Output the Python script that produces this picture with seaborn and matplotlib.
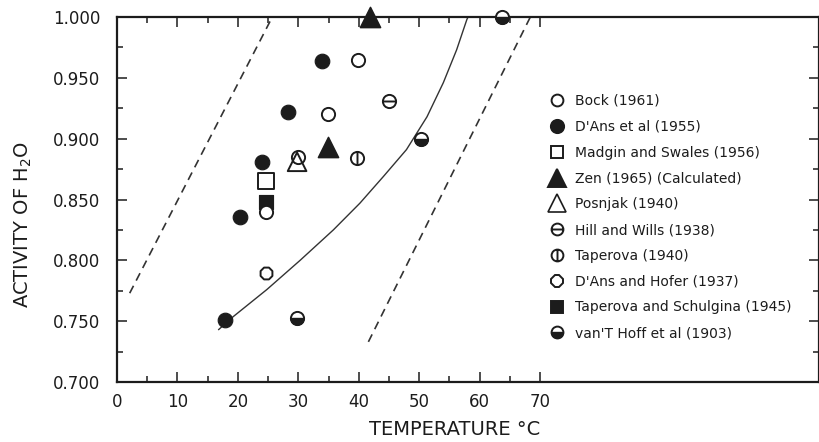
import numpy as np
import matplotlib
matplotlib.use("Agg")
import matplotlib.pyplot as plt
from matplotlib.lines import Line2D
from matplotlib.path import Path
import seaborn as sns

# data (temperature in deg C, activity of H2O)
bock_t = [24.7, 29.9, 34.9, 39.8]
bock_a = [0.840, 0.885, 0.920, 0.965]
dans_t = [17.9, 20.4, 24.0, 28.3, 33.9]
dans_a = [0.751, 0.836, 0.881, 0.922, 0.964]
madgin_t = [24.7]
madgin_a = [0.865]
zen_t = [34.9, 41.9]
zen_a = [0.893, 1.000]
posnjak_t = [29.8]
posnjak_a = [0.881]
hill_t = [45.0]
hill_a = [0.931]
taperova_t = [39.7]
taperova_a = [0.884]
hofer_t = [24.7]
hofer_a = [0.790]
schulgina_t = [24.7]
schulgina_a = [0.848]
vanthoff_t = [29.8, 50.3, 63.7]
vanthoff_a = [0.753, 0.900, 1.000]

# boundary lines
left_dash_t = [2.1, 25.7]
left_dash_a = [0.773, 1.000]
right_dash_t = [41.6, 68.4]
right_dash_a = [0.733, 1.000]
curve_t = [16.8, 19.3, 24.8, 30.3, 35.8, 40.2, 44.1, 47.9, 51.3, 54.0, 56.2, 57.9, 58.1]
curve_a = [0.743, 0.754, 0.776, 0.800, 0.825, 0.847, 0.869, 0.891, 0.918, 0.946, 0.973, 0.998, 1.000]

xticks = [0, 10, 20, 30, 40, 50, 60, 70]
xminor = [5, 15, 25, 35, 45, 55, 65]
yticks = [0.700, 0.750, 0.800, 0.850, 0.900, 0.950, 1.000]
yminor = [0.725, 0.775, 0.825, 0.875, 0.925, 0.975]

labels = ["Bock (1961)", "D'Ans et al (1955)", "Madgin and Swales (1956)",
          "Zen (1965) (Calculated)", "Posnjak (1940)", "Hill and Wills (1938)",
          "Taperova (1940)", "D'Ans and Hofer (1937)",
          "Taperova and Schulgina (1945)", "van'T Hoff et al (1903)"]

sns.set_theme(style="ticks")
plt.rcParams["font.family"] = ["DejaVu Sans"]

ink = "#1c1c1c"

fig = plt.figure(figsize=(8.19, 4.42), dpi=100)
ax = fig.add_axes([117 / 819, 1 - 382 / 442, (818.5 - 117) / 819, (382 - 17) / 442])

# custom marker paths
circ = Path.unit_circle()
hline = Path([[-1, 0], [1, 0]], [Path.MOVETO, Path.LINETO])
vline = Path([[0, -1], [0, 1]], [Path.MOVETO, Path.LINETO])
hill_marker = Path.make_compound_path(circ, hline)
tap_marker = Path.make_compound_path(circ, vline)
half_marker = Path.wedge(180, 360)

# lines
sns.lineplot(x=left_dash_t, y=left_dash_a, ax=ax, color="#333333", lw=1.2,
             linestyle=(0, (5, 3.5)))
sns.lineplot(x=right_dash_t, y=right_dash_a, ax=ax, color="#333333", lw=1.2,
             linestyle=(0, (5, 3.5)))
sns.lineplot(x=curve_t, y=curve_a, ax=ax, color="#333333", lw=1.0, sort=False)

# points
kw = dict(ax=ax, clip_on=False, zorder=5, legend=False)
sns.scatterplot(x=schulgina_t, y=schulgina_a, marker="s", s=110, color=ink, edgecolor=ink, **kw)
sns.scatterplot(x=bock_t, y=bock_a, marker="o", s=90, facecolor="white", edgecolor=ink, linewidth=1.4, **kw)
sns.scatterplot(x=dans_t, y=dans_a, marker="o", s=110, color=ink, edgecolor=ink, **kw)
sns.scatterplot(x=madgin_t, y=madgin_a, marker="s", s=125, facecolor="white", edgecolor=ink, linewidth=1.4, **kw)
sns.scatterplot(x=zen_t, y=zen_a, marker="^", s=210, color=ink, edgecolor=ink, **kw)
sns.scatterplot(x=posnjak_t, y=posnjak_a, marker="^", s=180, facecolor="none", edgecolor=ink, linewidth=1.4, **kw)
sns.scatterplot(x=hill_t, y=hill_a, marker=hill_marker, s=90, facecolor="white", edgecolor=ink, linewidth=1.4, **kw)
sns.scatterplot(x=taperova_t, y=taperova_a, marker=tap_marker, s=90, facecolor="white", edgecolor=ink, linewidth=1.4, **kw)
sns.scatterplot(x=hofer_t, y=hofer_a, marker="8", s=85, facecolor="white", edgecolor=ink, linewidth=1.4, **kw)
sns.scatterplot(x=vanthoff_t, y=vanthoff_a, marker="o", s=90, facecolor="white", edgecolor=ink, linewidth=1.4, **kw)
sns.scatterplot(x=vanthoff_t, y=vanthoff_a, marker=half_marker, s=90, color=ink, edgecolor=ink, linewidth=1.0, **kw)

# axes styling
ax.set_xlim(0, (818.5 - 117) / 6.043)
ax.set_ylim(0.700, 1.000)
ax.set_xticks(xticks)
ax.set_xticks(xminor, minor=True)
ax.set_xticklabels([str(t) for t in xticks])
ax.set_yticks(yticks)
ax.set_yticks(yminor, minor=True)
ax.set_yticklabels([f"{v:.3f}" for v in yticks])
ax.tick_params(which="both", direction="in", top=True, right=True, color=ink, width=1.1,
               labelcolor=ink, labelsize=12)
ax.tick_params(which="major", length=7.5)
ax.tick_params(which="minor", length=4)
ax.tick_params(axis="y", pad=12)
ax.tick_params(axis="x", pad=8)
for sp in ax.spines.values():
    sp.set_color(ink)
    sp.set_linewidth(1.6)
ax.set_facecolor("white")
ax.grid(False)

ax.set_xlabel("TEMPERATURE °C", fontsize=14, color=ink)
ax.xaxis.set_label_coords(0.481, -0.105)
ax.set_ylabel("ACTIVITY OF H$_2$O", fontsize=14, color=ink)
ax.yaxis.set_label_coords(-0.118, 0.43)

# legend
def mk(marker, ms, fc, mew=1.4):
    return Line2D([], [], ls="none", marker=marker, ms=ms, mfc=fc, mec=ink, mew=mew)

handles = [
    mk("o", 8.5, "white"),
    mk("o", 9.5, ink),
    mk("s", 9, "white"),
    mk("^", 13, ink),
    mk("^", 13, "white", 1.2),
    mk(hill_marker, 8.5, "white"),
    mk(tap_marker, 8.5, "white"),
    mk("8", 9, "white"),
    mk("s", 9, ink),
    (mk("o", 8.5, "white"), mk(half_marker, 8.5, ink, 1.0)),
]
leg = ax.legend(handles, labels, loc="upper left",
                bbox_to_anchor=(550 / 819, 1 - 94 / 442), bbox_transform=fig.transFigure,
                frameon=False, fontsize=10, handlelength=1.0, handletextpad=0.8,
                labelspacing=0.85, borderpad=0, borderaxespad=0)
for t in leg.get_texts():
    t.set_color(ink)

fig.savefig("out.png", dpi=100, facecolor="white")
